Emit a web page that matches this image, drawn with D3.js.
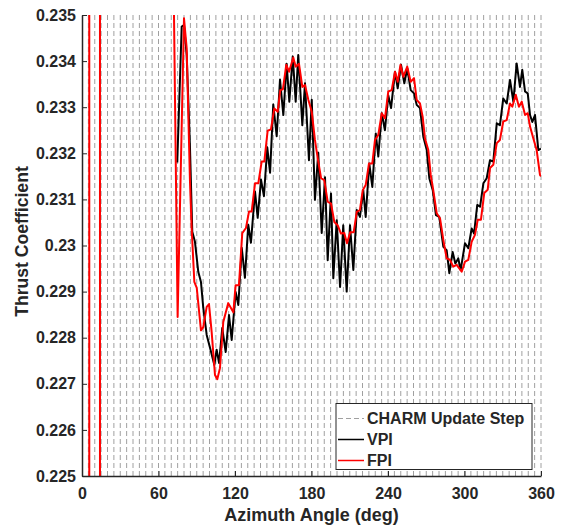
<!DOCTYPE html>
<html>
<head>
<meta charset="utf-8">
<script src="https://cdn.jsdelivr.net/npm/d3@7"></script>
<style>
  html, body { margin: 0; padding: 0; background: #fff; }
  svg text { font-family: "Liberation Sans", Arial, Helvetica, sans-serif; font-weight: bold; fill: #262626; }
</style>
</head>
<body>
<svg id="chart" width="564" height="527"></svg>
<script>
// ---- data ----
const xTicks = [0, 60, 120, 180, 240, 300, 360];
const yTicks = [0.225, 0.226, 0.227, 0.228, 0.229, 0.23, 0.231, 0.232, 0.233, 0.234, 0.235];
const yTickLabels = ["0.225", "0.226", "0.227", "0.228", "0.229", "0.23", "0.231", "0.232", "0.233", "0.234", "0.235"];
const updateSteps = d3.range(5, 361, 5); // CHARM update step angles (deg)
const legendLabels = ["CHARM Update Step", "VPI", "FPI"];

// VPI: [azimuth deg, thrust coefficient]
const vpiData = [
  [74.7,0.2318],[78.2,0.23475],[80,0.23478],[82.1,0.23413],[84.7,0.23211],[86.5,0.2303],[88.6,0.23008],
  [91.2,0.22943],[93.3,0.22921],[95.1,0.22865],[97.8,0.22806],[100.4,0.22778],[103.8,0.22741],[105.6,0.22774],
  [107.5,0.22745],[110,0.22821],[112.7,0.22769],[115.3,0.22849],[117.4,0.22795],[120.5,0.22899],[122.6,0.22871],
  [125.3,0.22995],[127.8,0.2293],[130.4,0.23045],[132.5,0.23006],[135.7,0.23117],[137.8,0.2306],[140.4,0.23143],
  [142.7,0.23107],[145.3,0.23213],[147.5,0.23158],[150,0.23306],[152.7,0.23237],[155.3,0.2336],[157.9,0.23283],
  [160.5,0.23394],[162.6,0.23312],[165.3,0.2341],[167.6,0.23312],[169.6,0.23413],[172.8,0.23261],[174.9,0.23352],
  [178,0.23185],[180.2,0.23316],[182.7,0.23099],[185.3,0.23201],[188,0.23027],[190.6,0.23148],[192.7,0.22968],
  [195.3,0.23113],[197.1,0.22929],[199.8,0.23055],[202.4,0.2291],[204.9,0.23044],[207.6,0.229],[210.2,0.23044],
  [212.8,0.22947],[215.5,0.23077],[218,0.23062],[220.6,0.2312],[222.5,0.23062],[225.3,0.23178],[227.7,0.23127],
  [230.4,0.23243],[232.4,0.23193],[235.1,0.23287],[237.6,0.2325],[240.2,0.23326],[242.4,0.23298],[245.5,0.23377],
  [247.6,0.23341],[250.2,0.23392],[252.8,0.23352],[255.1,0.23384],[257.8,0.23337],[260.4,0.2333],[262.5,0.23305],
  [265.1,0.23298],[267.7,0.23236],[270.4,0.23207],[272.4,0.23146],[275.1,0.2312],[277.6,0.23066],[280.2,0.23062],
  [283.4,0.22997],[286,0.2299],[288.1,0.2294],[290.7,0.22986],[292.8,0.22961],[295.1,0.22972],[297,0.22947],
  [300.4,0.23005],[303,0.22994],[305.6,0.23037],[307.5,0.23026],[310,0.23088],[312.2,0.23084],[314.8,0.23135],
  [317.4,0.23146],[320,0.23185],[322.6,0.23182],[325.3,0.23265],[327.8,0.23261],[330.4,0.23319],[333.1,0.23308],
  [335.7,0.23359],[338.3,0.23312],[340.9,0.23395],[343.5,0.23344],[345.3,0.23381],[347.5,0.23334],[349.6,0.2333],
  [351.4,0.23283],[353.2,0.23268],[355.3,0.23283],[357.9,0.23207],[360,0.2321]
];

// FPI: [azimuth deg, thrust coefficient] (early values are far off-scale)
const fpiData = [
  [0,0.30],[5.7,0.30],[5.7,0.20],[14.1,0.20],[14.1,0.30],[70,0.30],[71.5,0.2365],
  [75,0.22845],[80,0.23493],[82.1,0.23428],[83.4,0.23283],[84.7,0.23138],[86,0.23038],[88.1,0.22921],
  [90,0.22908],[93.3,0.22816],[95.1,0.22823],[97.8,0.22867],[99.6,0.22873],[101.7,0.22812],[104.3,0.22719],
  [106.1,0.2271],[108.2,0.22734],[110.8,0.22834],[114.7,0.22875],[118.7,0.22855],[120.5,0.22914],[123.1,0.22914],
  [125.7,0.23027],[128.6,0.23038],[131,0.23074],[133.1,0.23074],[135.7,0.23135],[138.3,0.23135],[140.9,0.23182],
  [143,0.23182],[145.6,0.23249],[148.2,0.23252],[150.8,0.23297],[153.5,0.2329],[155.5,0.23337],[157.6,0.23339],
  [160.2,0.23392],[162.4,0.23377],[165.7,0.23408],[167.6,0.23388],[170.2,0.23394],[172.8,0.23344],[174.9,0.23348],
  [177.5,0.23316],[180.2,0.2329],[182.7,0.23229],[184.9,0.23189],[187.5,0.23146],[190,0.23142],[192.7,0.23095],
  [195.3,0.23091],[197.9,0.23051],[200.5,0.23044],[203.1,0.23026],[205.7,0.23027],[207.8,0.23005],[210.4,0.23029],
  [213.1,0.23029],[215.5,0.23073],[218,0.23077],[220.2,0.2312],[222.5,0.23131],[225.1,0.23178],[227.7,0.23178],
  [229.8,0.23229],[232.4,0.2324],[235.1,0.23287],[237.6,0.23276],[240.2,0.23334],[242.9,0.23337],[245.5,0.23377],
  [247.6,0.23355],[249.8,0.23392],[252,0.23366],[255.1,0.23388],[257.8,0.23355],[260.4,0.23363],[262.5,0.23316],
  [265.1,0.23308],[267.2,0.23279],[269,0.23232],[271.6,0.23207],[273.5,0.23153],[275.5,0.2312],[278.2,0.2307],
  [280.8,0.23059],[283.4,0.23012],[286,0.22972],[288.6,0.22969],[291.2,0.22954],[293.9,0.22958],[297.8,0.22943],
  [300.4,0.22965],[303,0.22969],[305.6,0.23008],[308.2,0.23023],[310.4,0.23056],[312.9,0.23056],[315.5,0.23114],
  [318.2,0.23121],[320,0.23168],[322.6,0.23175],[325.3,0.23222],[327.8,0.23229],[330.4,0.23269],[333.1,0.23272],
  [335.7,0.23308],[337.5,0.23301],[340.2,0.23327],[342.7,0.23301],[344.9,0.23312],[347.5,0.23283],[349.6,0.23287],
  [351.4,0.23258],[354,0.23232],[356.6,0.23207],[359.2,0.23153],[360,0.2315]
];

// ---- layout ----
const svg = d3.select("#chart");
const L = 82, R = 541, T = 15, B = 476;
const ink = "#262626";

const x = d3.scaleLinear().domain([0, 360]).range([L, R]);
const y = d3.scaleLinear().domain([0.225, 0.235]).range([B, T]);

svg.append("defs").append("clipPath").attr("id", "plotClip")
  .append("rect").attr("x", L).attr("y", T).attr("width", R - L).attr("height", B - T);

// CHARM update step dashed lines
svg.append("g").selectAll("line").data(updateSteps).join("line")
  .attr("x1", d => x(d)).attr("x2", d => x(d))
  .attr("y1", T).attr("y2", B)
  .attr("stroke", "#a0a0a0").attr("stroke-width", 1)
  .attr("stroke-dasharray", "5,3");

const line = d3.line().x(d => x(d[0])).y(d => y(d[1]));
const plot = svg.append("g").attr("clip-path", "url(#plotClip)");

plot.append("path").datum(vpiData).attr("d", line)
  .attr("fill", "none").attr("stroke", "#000").attr("stroke-width", 2).attr("stroke-linejoin", "round");
plot.append("path").datum(fpiData).attr("d", line)
  .attr("fill", "none").attr("stroke", "#ff0000").attr("stroke-width", 2).attr("stroke-linejoin", "round");

// axes
const xAxis = d3.axisBottom(x).tickValues(xTicks).tickSizeInner(-5).tickSizeOuter(0).tickPadding(12)
  .tickFormat(d3.format("d"));
const gx = svg.append("g").attr("transform", `translate(0,${B})`).call(xAxis);
const yAxis = d3.axisLeft(y).tickValues(yTicks).tickSizeInner(-5).tickSizeOuter(0).tickPadding(6)
  .tickFormat((d, i) => yTickLabels[i]);
const gy = svg.append("g").attr("transform", `translate(${L},0)`).call(yAxis);

[gx, gy].forEach(g => {
  g.select(".domain").attr("stroke", ink).attr("stroke-width", 1.5);
  g.selectAll(".tick line").attr("stroke", ink).attr("stroke-width", 1);
  g.selectAll(".tick text").style("font-size", "16px").style("font-weight", "bold").attr("fill", ink);
});

// axis labels
svg.append("text").attr("x", (L + R) / 2).attr("y", 521).attr("text-anchor", "middle")
  .style("font-size", "18px").text("Azimuth Angle (deg)");
svg.append("text").attr("transform", `translate(28,241.5) rotate(-90)`).attr("text-anchor", "middle")
  .style("font-size", "17.6px").text("Thrust Coefficient");

// legend
const lg = svg.append("g");
lg.append("rect").attr("x", 336).attr("y", 403.5).attr("width", 196).attr("height", 66)
  .attr("fill", "#fff").attr("stroke", ink).attr("stroke-width", 1);
const legendStyles = [
  { stroke: "#a0a0a0", dash: "5,3", w: 1 },
  { stroke: "#000", dash: null, w: 1.5 },
  { stroke: "#ff0000", dash: null, w: 1.5 }
];
legendLabels.forEach((lab, i) => {
  const cy = 418.5 + i * 21;
  lg.append("line").attr("x1", 338).attr("x2", 364).attr("y1", cy).attr("y2", cy)
    .attr("stroke", legendStyles[i].stroke).attr("stroke-width", legendStyles[i].w)
    .attr("stroke-dasharray", legendStyles[i].dash);
  lg.append("text").attr("x", 367).attr("y", cy).attr("dy", "0.36em")
    .style("font-size", "16px").text(lab);
});
</script>
</body>
</html>
